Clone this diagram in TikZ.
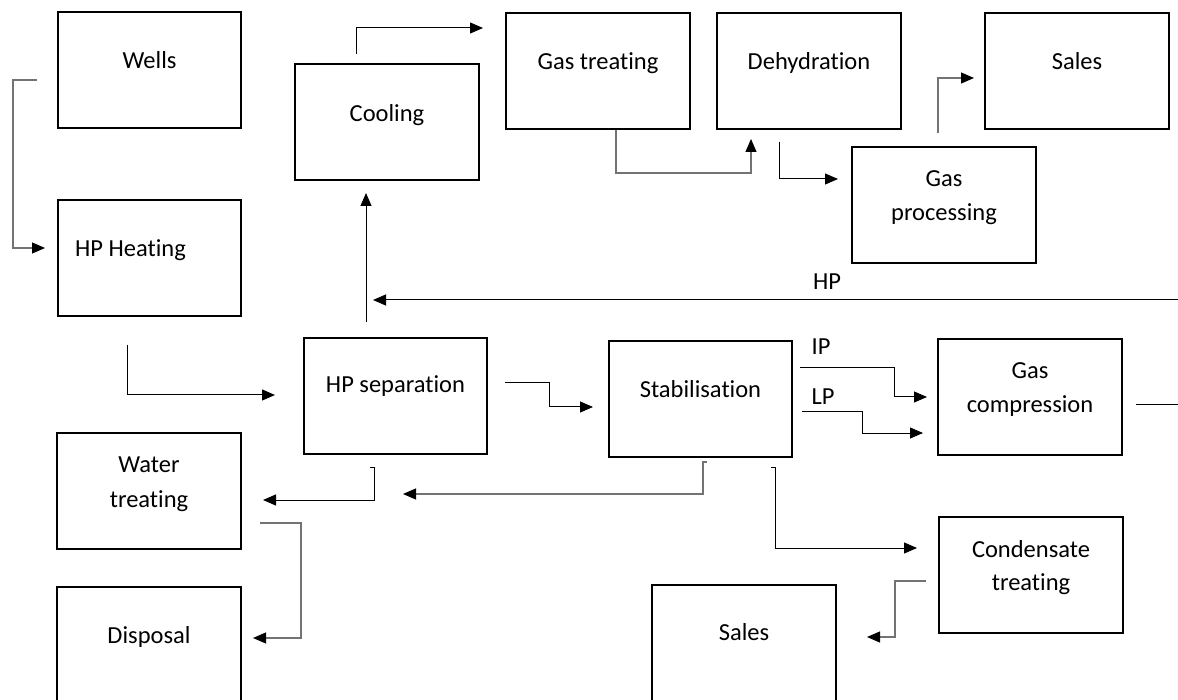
\documentclass[tikz,border=0pt]{standalone}
\usepackage{fontspec}
\setmainfont{Carlito}[Ligatures={NoCommon}]
\usetikzlibrary{arrows.meta,calc}

\tikzset{
  unit box/.style={draw=black, line width=2.6pt, rectangle, anchor=north west,
    minimum width=184pt, minimum height=116pt, inner sep=0pt, outer sep=0pt},
  txt/.style={inner sep=0pt, anchor=base, font=\fontsize{24.5pt}{30pt}\selectfont},
  flow/.style={draw=black, line width=1pt},
  soft flow/.style={draw=black!55, line width=1.1pt},
  tip/.style={-{Triangle[length=13pt,width=11pt,color=black]}}
}

\begin{document}
\begin{tikzpicture}[x=1pt, y=-1pt]
\useasboundingbox (0,0) rectangle (1178,700);
\clip (0,0) rectangle (1178,700);

% process units
\node[unit box, minimum width=183pt] (wells)    at (58,12)  {};
\node[unit box, minimum width=183pt] (hpheat)   at (58,200) {};
\node[unit box] (cooling)  at (295,64)  {};
\node[unit box] (gastreat) at (506,13)  {};
\node[unit box] (dehy)     at (717,13)  {};
\node[unit box] (sales1)   at (985,13)  {};
\node[unit box] (gasproc)  at (852,147) {};
\node[unit box, minimum width=183pt] (hpsep) at (304,338) {};
\node[unit box, minimum width=183pt] (stab)  at (609,341) {};
\node[unit box] (gascomp)  at (938,339) {};
\node[unit box] (water)    at (57,433)  {};
\node[unit box] (disposal) at (57,587)  {};
\node[unit box] (cond)     at (939,517) {};
\node[unit box] (sales2)   at (652,585) {};

% unit names
\node[txt] (wells-t)    at ($(wells.north)+(0,57)$)    {Wells};
\node[txt, anchor=base west] (hpheat-t) at ($(hpheat.north west)+(17,57)$) {HP Heating};
\node[txt] (cooling-t)  at ($(cooling.north)+(0,58)$)  {Cooling};
\node[txt] (gastreat-t) at ($(gastreat.north)+(0,57)$) {Gas treating};
\node[txt] (dehy-t)     at ($(dehy.north)+(0,57)$)     {Dehydration};
\node[txt] (sales1-t)   at ($(sales1.north)+(0,57)$)   {Sales};
\node[txt] (gasproc-a)  at ($(gasproc.north)+(0,40)$)  {Gas};
\node[txt] (gasproc-b)  at ($(gasproc.north)+(0,74)$)  {processing};
\node[txt] (hpsep-t)    at ($(hpsep.north)+(0,55)$)    {HP separation};
\node[txt] (stab-t)     at ($(stab.north)+(0,57)$)     {Stabilisation};
\node[txt] (gascomp-a)  at ($(gascomp.north)+(0,40)$)  {Gas};
\node[txt] (gascomp-b)  at ($(gascomp.north)+(0,74)$)  {compression};
\node[txt] (water-a)    at ($(water.north)+(0,39)$)    {Water};
\node[txt] (water-b)    at ($(water.north)+(0,74)$)    {treating};
\node[txt] (disposal-t) at ($(disposal.north)+(0,56)$) {Disposal};
\node[txt] (cond-a)     at ($(cond.north)+(0,40)$)     {Condensate};
\node[txt] (cond-b)     at ($(cond.north)+(0,73)$)     {treating};
\node[txt] (sales2-t)   at ($(sales2.north)+(0,55)$)   {Sales};

% free ends at the right-hand margin
\coordinate (hp-in)  at (1178,300);
\coordinate (gc-out) at (1178,405);

% flow lines
\draw[soft flow, tip] ($(wells.west)+(-21,10)$) -- ++(-24,0) |- ($(hpheat.west)+(-13,-10)$);
\draw[flow, tip] ($(hpheat.south)+(-22,29)$) |- ($(hpsep.west)+(-29,-1)$);
\draw[flow, tip] ($(hpsep.north)+(-29.5,-16)$) -- ($(cooling.south)+(-21,13)$);
\draw[flow, tip] ($(cooling.north)+(-31,-10)$) |- ($(gastreat.west)+(-23,-43)$);
\draw[soft flow, tip] ($(gastreat.south)+(18,1)$) -- ++(0,43) -| ($(dehy.south west)+(34,10)$);
\draw[flow, tip] ($(dehy.south)+(-30,13)$) |- ($(gasproc.west)+(-14,-26)$);
\draw[soft flow, tip] ($(gasproc.north)+(-6,-14)$) |- ($(sales1.west)+(-11,7)$);
\draw[flow, tip] (hp-in) -- ($(cooling.south)+(-14,120)$);
\node[txt] (hp-lbl) at (827,290) {HP};
\draw[flow, tip] ($(hpsep.east)+(18,-13)$) -- ++(44,0) |- ($(stab.west)+(-16,8)$);
\draw[flow, tip] ($(stab.east)+(8,-31)$) -- ++(94,0) |- ($(gascomp.west)+(-11,0)$);
\node[txt] (ip-lbl) at (821,355) {IP};
\draw[flow, tip] ($(stab.east)+(10,13)$) -- ++(60,0) |- ($(gascomp.west)+(-15,36)$);
\node[txt] (lp-lbl) at (823,405) {LP};
\draw[flow] ($(gascomp.east)+(14,8)$) -- (gc-out);
\draw[flow, tip] ($(hpsep.south)+(-25.5,13)$) -- ++(4,0) |- ($(water.east)+(22,9)$);
\draw[soft flow, tip] ($(stab.south)+(6.5,5)$) -- ++(-4,0) |- ($(hpsep.south)+(7.5,40)$);
\draw[flow, tip] ($(stab.south)+(70.5,10)$) -- ++(4,0) |- ($(cond.west)+(-22,-27)$);
\draw[soft flow, tip] ($(water.east)+(19,32)$) -- ++(41,0) |- ($(disposal.east)+(12,-7)$);
\draw[soft flow, tip] ($(cond.west)+(-13,6)$) -- ++(-31,0) |- ($(sales2.east)+(31,-6)$);
\end{tikzpicture}
\end{document}
